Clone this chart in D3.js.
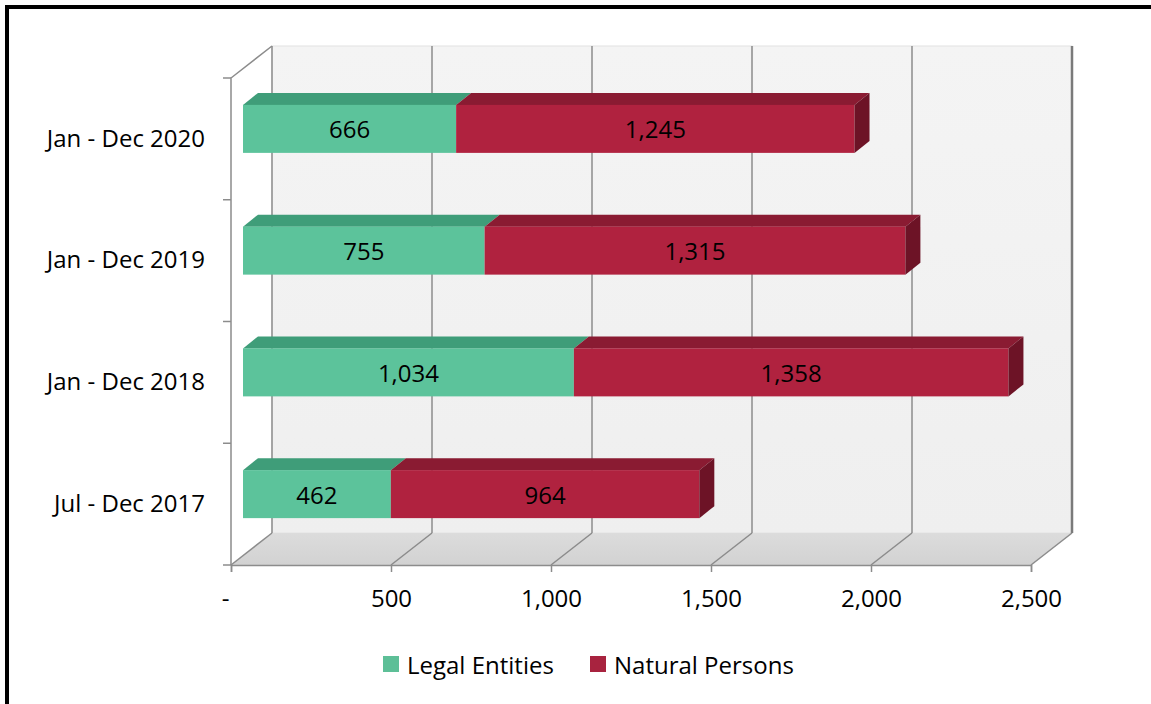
<!DOCTYPE html>
<html>
<head>
<meta charset="utf-8">
<script src="https://cdn.jsdelivr.net/npm/d3@7"></script>
<style>
  html, body { margin: 0; padding: 0; background: #fff; }
  svg { display: block; }
  text { font-family: "Open Sans", Lato, sans-serif; fill: #000; }
</style>
</head>
<body>
<svg id="chart" width="1151" height="704"></svg>
<script>
// Period categories, bottom to top
const categories = ["Jul - Dec 2017", "Jan - Dec 2018", "Jan - Dec 2019", "Jan - Dec 2020"];
const seriesNames = ["Legal Entities", "Natural Persons"];
const legalEntities = [462, 1034, 755, 666];
const naturalPersons = [964, 1358, 1315, 1245];
const xTicks = [0, 500, 1000, 1500, 2000, 2500];

const FONT = "\"Open Sans\", Lato, sans-serif";
const FS = 24;

const colors = {
  "Legal Entities": { front: "#5cc39b", top: "#3f9d79", side: "#2f7d5f", legend: "#5dbf97" },
  "Natural Persons": { front: "#b0223f", top: "#8a1b32", side: "#6d1326", legend: "#a8233f" }
};

const svg = d3.select("#chart");
const W = 1151, H = 704;

// Plot geometry (front plane of the 3-D box and its depth offset)
const front = { left: 231, right: 1031, top: 78, bottom: 565 };
const wallDepth = { dx: 41, dy: -32 };
const barShift = { dx: 12, dy: -10 };   // bars sit a bit inside the box
const barDepth = { dx: 15, dy: -12 };
const barHeight = 48;

const x = d3.scaleLinear().domain([0, 2500]).range([front.left, front.right]);
const y = d3.scaleBand().domain(categories.slice().reverse()).range([front.top, front.bottom]).padding(0);

// Outer frame
svg.append("rect")
  .attr("x", 7).attr("y", 7).attr("width", W + 20).attr("height", H + 20)
  .attr("fill", "#fff").attr("stroke", "#000").attr("stroke-width", 4);

const defs = svg.append("defs");
const wallGrad = defs.append("linearGradient").attr("id", "wallGrad")
  .attr("x1", 0).attr("y1", 0).attr("x2", 0).attr("y2", 1);
wallGrad.append("stop").attr("offset", "0%").attr("stop-color", "#f4f4f4");
wallGrad.append("stop").attr("offset", "100%").attr("stop-color", "#efefef");
const floorGrad = defs.append("linearGradient").attr("id", "floorGrad")
  .attr("x1", 0).attr("y1", 0).attr("x2", 0).attr("y2", 1);
floorGrad.append("stop").attr("offset", "0%").attr("stop-color", "#dcdcdc");
floorGrad.append("stop").attr("offset", "100%").attr("stop-color", "#d2d2d2");

// Back wall
const bx = v => x(v) + wallDepth.dx;
const backTop = front.top + wallDepth.dy;
const backBottom = front.bottom + wallDepth.dy;
svg.append("rect")
  .attr("x", bx(0)).attr("y", backTop)
  .attr("width", bx(2500) - bx(0)).attr("height", backBottom - backTop)
  .attr("fill", "url(#wallGrad)").attr("stroke", "#e2e2e2").attr("stroke-width", 1);

// Floor
svg.append("polygon")
  .attr("points", [[x(0), front.bottom], [x(2500), front.bottom], [bx(2500), backBottom], [bx(0), backBottom]].map(p => p.join(",")).join(" "))
  .attr("fill", "url(#floorGrad)");

// Grid lines: vertical on the back wall, diagonal across the floor
const grid = svg.append("g").attr("stroke", "#8c8c8c").attr("stroke-width", 1.5).attr("fill", "none");
grid.selectAll("line.wall").data(xTicks).join("line").attr("class", "wall")
  .attr("x1", d => bx(d)).attr("x2", d => bx(d))
  .attr("y1", backTop).attr("y2", backBottom)
  .attr("stroke", d => d === 2500 ? "#7a7a7a" : "#8c8c8c")
  .attr("stroke-width", d => d === 2500 ? 2.5 : 1.5);
grid.selectAll("line.floor").data(xTicks).join("line").attr("class", "floor")
  .attr("x1", d => x(d)).attr("x2", d => bx(d))
  .attr("y1", front.bottom).attr("y2", backBottom);

// Left wall edges
svg.append("path")
  .attr("d", `M${x(0)},${front.bottom}V${front.top}L${bx(0)},${backTop}`)
  .attr("fill", "none").attr("stroke", "#8c8c8c").attr("stroke-width", 1.5);

// Category tick marks at band boundaries
const yBounds = y.domain().map(c => y(c)).concat([front.bottom]);
svg.append("g").selectAll("line").data(yBounds).join("line")
  .attr("x1", x(0) - 8).attr("x2", x(0))
  .attr("y1", d => d).attr("y2", d => d)
  .attr("stroke", "#8c8c8c").attr("stroke-width", 1.5);

// Stacked bars
const rows = categories.map((c, i) => ({ category: c, "Legal Entities": legalEntities[i], "Natural Persons": naturalPersons[i] }));
const stacked = d3.stack().keys(seriesNames)(rows);
const fx = v => x(v) + barShift.dx;
const faceTop = c => y(c) + y.bandwidth() / 2 + barShift.dy - barHeight / 2;

const bars = svg.append("g");
stacked.forEach(layer => {
  const key = layer.key;
  const col = colors[key];
  const g = bars.append("g");
  layer.forEach(seg => {
    const c = seg.data.category;
    const x0 = fx(seg[0]), x1 = fx(seg[1]);
    const t = faceTop(c), b = t + barHeight;
    // top face
    g.append("polygon")
      .attr("points", [[x0, t], [x1, t], [x1 + barDepth.dx, t + barDepth.dy], [x0 + barDepth.dx, t + barDepth.dy]].map(p => p.join(",")).join(" "))
      .attr("fill", col.top);
    // front face
    g.append("rect")
      .attr("x", x0).attr("y", t).attr("width", x1 - x0).attr("height", barHeight)
      .attr("fill", col.front);
    // right face on the outer end of the stack
    if (key === seriesNames[seriesNames.length - 1]) {
      g.append("polygon")
        .attr("points", [[x1, t], [x1 + barDepth.dx, t + barDepth.dy], [x1 + barDepth.dx, b + barDepth.dy], [x1, b]].map(p => p.join(",")).join(" "))
        .attr("fill", col.side);
    }
    // value label
    g.append("text")
      .attr("x", (x0 + x1) / 2).attr("y", t + barHeight / 2)
      .attr("text-anchor", "middle").attr("dominant-baseline", "central")
      .attr("font-size", FS)
      .text(d3.format(",")(seg[1] - seg[0]));
  });
});

// Value axis along the front edge of the floor
const xAxis = d3.axisBottom(x).tickValues(xTicks).tickSize(7).tickPadding(18)
  .tickFormat(d => d === 0 ? "-" : d3.format(",")(d));
const xg = svg.append("g").attr("transform", `translate(0,${front.bottom})`).call(xAxis);
xg.select(".domain").attr("stroke", "#8c8c8c").attr("stroke-width", 1.5);
xg.selectAll(".tick line").attr("stroke", "#8c8c8c").attr("stroke-width", 1.5);
xg.selectAll(".tick text").attr("font-size", FS).attr("fill", "#000")
  .attr("font-family", FONT)
  .attr("dx", d => d === 0 ? -6 : 0);

// Category axis labels
const yAxis = d3.axisLeft(y).tickSize(0).tickPadding(26);
const yg = svg.append("g").attr("transform", `translate(${x(0)},0)`).call(yAxis);
yg.select(".domain").remove();
yg.selectAll(".tick text").attr("font-size", FS).attr("fill", "#000")
  .attr("font-family", FONT);

// Legend
const legend = svg.append("g").attr("transform", "translate(383,664)");
const legendX = [0, 207];
seriesNames.forEach((name, i) => {
  const lg = legend.append("g").attr("transform", `translate(${legendX[i]},0)`);
  lg.append("rect").attr("x", 0).attr("y", -8).attr("width", 16).attr("height", 16)
    .attr("fill", colors[name].legend);
  lg.append("text").attr("x", 24).attr("y", 0).attr("dominant-baseline", "central")
    .attr("font-size", FS).text(name);
});
</script>
</body>
</html>
